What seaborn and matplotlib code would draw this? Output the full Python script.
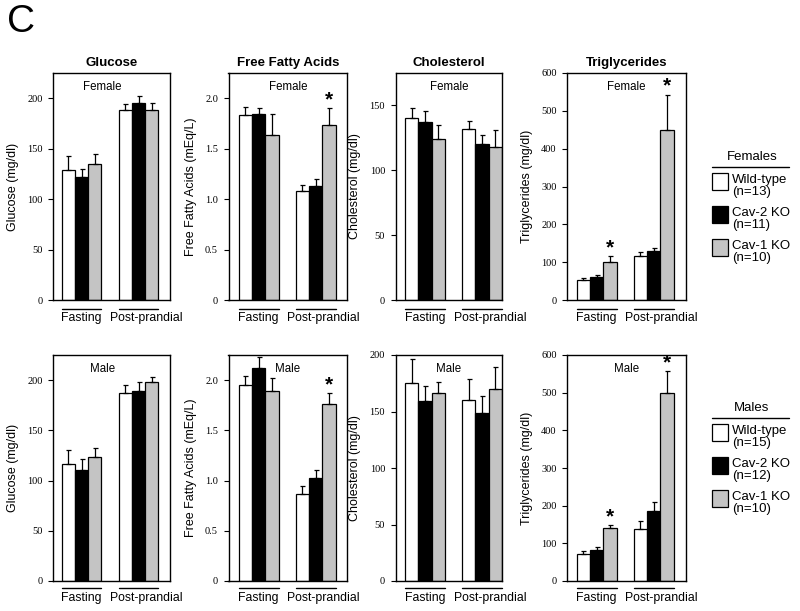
import numpy as np
import pandas as pd
import seaborn as sns
import matplotlib.pyplot as plt
from matplotlib.lines import Line2D
from matplotlib.patches import Rectangle
from matplotlib.ticker import FuncFormatter
from matplotlib.transforms import offset_copy

sns.set_style("white")
plt.rcParams['font.family'] = ['Liberation Sans', 'DejaVu Sans']
plt.rcParams.update({'text.color': 'black', 'axes.labelcolor': 'black',
                     'xtick.color': 'black', 'ytick.color': 'black'})

conditions = ['Fasting', 'Post-prandial']
genotypes = ['Wild-type', 'Cav-2 KO', 'Cav-1 KO']
bar_colors = ['white', 'black', '#c4c4c4']
n_female = [13, 11, 10]
n_male = [15, 12, 10]

# rows: Fasting, Post-prandial / cols: Wild-type, Cav-2 KO, Cav-1 KO
glu_f = [[128.5, 122, 135], [188, 195, 188]]
glu_f_sem = [[14, 8, 10], [6.5, 7.5, 7]]
ffa_f = [[1.83, 1.84, 1.64], [1.08, 1.13, 1.73]]
ffa_f_sem = [[0.08, 0.06, 0.20], [0.06, 0.07, 0.17]]
chol_f = [[140, 137, 124], [132, 120, 118]]
chol_f_sem = [[8, 9, 11], [6, 7.5, 13]]
tg_f = [[53, 62, 100], [117, 129, 450]]
tg_f_sem = [[4, 5, 17], [10, 8, 93]]

glu_m = [[116, 111, 123.5], [187.5, 189, 198]]
glu_m_sem = [[14, 10, 8.5], [8, 9, 5.5]]
ffa_m = [[1.95, 2.12, 1.89], [0.87, 1.03, 1.76]]
ffa_m_sem = [[0.09, 0.11, 0.13], [0.08, 0.08, 0.11]]
chol_m = [[175, 159, 166], [160, 149, 170]]
chol_m_sem = [[21.5, 13.5, 10.5], [18.5, 15, 19.5]]
tg_m = [[73, 81, 140], [139, 187, 500]]
tg_m_sem = [[6, 10, 9], [19, 24, 58]]

titles = ['Glucose', 'Free Fatty Acids', 'Cholesterol', 'Triglycerides']
ylabels = ['Glucose (mg/dl)', 'Free Fatty Acids (mEq/L)', 'Cholesterol (mg/dl)', 'Triglycerides (mg/dl)']
sexes = ['Female', 'Male']
means = [[glu_f, ffa_f, chol_f, tg_f], [glu_m, ffa_m, chol_m, tg_m]]
sems = [[glu_f_sem, ffa_f_sem, chol_f_sem, tg_f_sem], [glu_m_sem, ffa_m_sem, chol_m_sem, tg_m_sem]]
ylims = [[225, 2.25, 175, 600], [225, 2.25, 200, 600]]
ystep = [[50, 0.5, 50, 100], [50, 0.5, 50, 100]]
# significant (*): (row, col, condition, genotype)
stars = [(0, 1, 1, 2), (0, 3, 0, 2), (0, 3, 1, 2), (1, 1, 1, 2), (1, 3, 0, 2), (1, 3, 1, 2)]

W, H = 800, 611
fig = plt.figure(figsize=(8, 6.11), dpi=100)

col_left = [53, 228.5, 395.5, 567]
col_xlim = [(-0.5, 1.55), (-0.53, 1.55), (-0.52, 1.35), (-0.52, 1.56)]
unit_px = 57
row_top = [73, 355]
row_bot = [300, 581]
line_drop = [8.5, 6.5]   # px below the axis for the group underline
lab_drop = [18, 17]
lab_shift = [0, 8]       # px, Fasting / Post-prandial
fmt = FuncFormatter(lambda v, p: '0' if v == 0 else ('%.1f' % v if v < 10 else '%d' % v))
px = 72 / 100  # points per pixel

for r in range(2):
    for c in range(4):
        x0, x1 = col_xlim[c]
        w = (x1 - x0) * unit_px
        ax = fig.add_axes([col_left[c] / W, 1 - row_bot[r] / H, w / W, (row_bot[r] - row_top[r]) / H])
        rows = []
        for i, cond in enumerate(conditions):
            for j, g in enumerate(genotypes):
                rows.append({'condition': cond, 'genotype': g, 'value': means[r][c][i][j]})
        df = pd.DataFrame(rows)
        sns.barplot(data=df, x='condition', y='value', hue='genotype', order=conditions,
                    hue_order=genotypes, palette=bar_colors, saturation=1, width=0.7,
                    edgecolor='black', linewidth=0.9, errorbar=None, legend=False, ax=ax)
        bar_sets = list(ax.containers)
        # upward-only SEM bars
        lefts = [[], []]
        rights = [[], []]
        for j, cont in enumerate(bar_sets):
            for i, bar in enumerate(cont):
                xc = bar.get_x() + bar.get_width() / 2
                top = bar.get_height()
                ax.errorbar([xc], [top], yerr=[[0], [sems[r][c][i][j]]], fmt='none',
                            ecolor='black', elinewidth=0.9, capsize=1.8, capthick=0.9, zorder=3)
                lefts[i].append(bar.get_x())
                rights[i].append(bar.get_x() + bar.get_width())
                if (r, c, i, j) in stars:
                    ax.annotate('*', xy=(xc, top + sems[r][c][i][j]), xytext=(0, 2),
                                textcoords='offset points', ha='center', va='baseline',
                                fontsize=15, fontweight='bold')
        xt = ax.get_xaxis_transform()
        for i in range(2):
            ax.plot([min(lefts[i]), max(rights[i])], [0, 0], color='black', lw=1, clip_on=False,
                    transform=offset_copy(xt, fig=fig, y=-line_drop[r] * px, units='points'))
            gc = (min(lefts[i]) + max(rights[i])) / 2
            ax.text(gc, 0, conditions[i], ha='center', va='center', fontsize=8.8,
                    transform=offset_copy(xt, fig=fig, x=lab_shift[i] * px, y=-lab_drop[r] * px,
                                          units='points'))
        ax.set_xticks([])
        ax.set_xlim(x0, x1)
        ax.set_ylim(0, ylims[r][c])
        ax.set_yticks(np.arange(0, ylims[r][c] + 1e-9, ystep[r][c]))
        ax.yaxis.set_major_formatter(fmt)
        for lab in ax.get_yticklabels():
            lab.set_fontfamily('Liberation Serif')
        ax.tick_params(axis='y', left=True, length=3.5, width=0.8, pad=4, labelsize=7.5)
        ax.set_xlabel('')
        ax.set_ylabel(ylabels[c], fontsize=9, labelpad=6)
        for s in ax.spines.values():
            s.set_linewidth(1)
            s.set_color('black')
        ax.text(0.42 if c == 0 else 0.5, 0.965, sexes[r], transform=ax.transAxes,
                ha='center', va='top', fontsize=8.3)
        if r == 0:
            ax.set_title(titles[c], fontsize=9.5, fontweight='bold', pad=5)

fig.text(7 / W, 1 - 4 / H, 'C', fontsize=28, ha='left', va='top')

# legends
for head, ns, y_head in [('Females', n_female, 157), ('Males', n_male, 408)]:
    fig.text(752 / W, 1 - y_head / H, head, ha='center', va='center', fontsize=9.5)
    fig.add_artist(Line2D([712 / W, 789 / W], [1 - (y_head + 10) / H] * 2, color='black', lw=1))
    for k, g in enumerate(genotypes):
        ytop = y_head + 16 + k * 33
        fig.add_artist(Rectangle((712 / W, 1 - (ytop + 17) / H), 16 / W, 17 / H,
                                 facecolor=bar_colors[k], edgecolor='black', lw=0.9))
        fig.text(732 / W, 1 - (ytop + 1) / H, '%s\n(n=%d)' % (g, ns[k]), ha='left', va='top',
                 fontsize=9.5, linespacing=0.95)

plt.savefig('out.png', dpi=100)
